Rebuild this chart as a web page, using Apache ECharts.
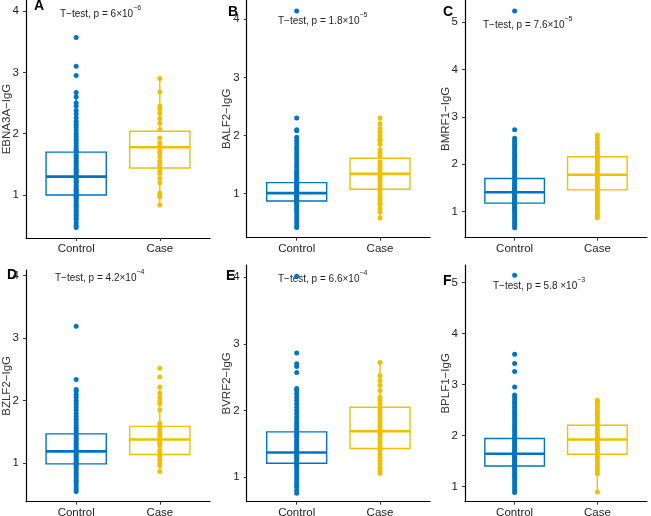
<!DOCTYPE html>
<html>
<head>
<meta charset="utf-8">
<script src="https://cdn.jsdelivr.net/npm/echarts@6/dist/echarts.min.js"></script>
<style>
  html, body { margin: 0; padding: 0; background: #fff; }
  #main { width: 651px; height: 516px; }
</style>
</head>
<body>
<div id="main"></div>
<script>
// groups on the x axis
const categories = ["Control", "Case"];
const letters = ["A", "B", "C", "D", "E", "F"];
const yNames = ["EBNA3A−IgG", "BALF2−IgG", "BMRF1−IgG", "BZLF2−IgG", "BVRF2−IgG", "BPLF1−IgG"];
const pMain = ["6×10", "1.8×10", "7.6×10", "4.2×10", "6.6×10", "5.8 ×10"];
const pExp = ["−6", "−5", "−5", "−4", "−4", "−3"];
const yTicksA = [1, 2, 3, 4];
const yTicksB = [1, 2, 3, 4];
const yTicksC = [1, 2, 3, 4, 5];
const yTicksD = [1, 2, 3, 4];
const yTicksE = [1, 2, 3, 4];
const yTicksF = [1, 2, 3, 4, 5];

// box stats: [lower whisker, Q1, median, Q3, upper whisker]
const boxCtrlA = [0.47, 1.0, 1.3, 1.7, 2.67];
const boxCaseA = [0.84, 1.44, 1.78, 2.04, 2.9];
const boxCtrlB = [0.42, 0.875, 1.01, 1.19, 1.65];
const boxCaseB = [0.57, 1.075, 1.34, 1.61, 2.3];
const boxCtrlC = [0.66, 1.18, 1.41, 1.7, 2.45];
const boxCaseC = [0.87, 1.46, 1.78, 2.16, 2.62];
const boxCtrlD = [0.55, 0.99, 1.19, 1.47, 2.18];
const boxCaseD = [0.87, 1.14, 1.38, 1.59, 2.22];
const boxCtrlE = [0.76, 1.21, 1.37, 1.68, 2.33];
const boxCaseE = [1.06, 1.43, 1.69, 2.05, 2.72];
const boxCtrlF = [0.88, 1.4, 1.64, 1.94, 2.75];
const boxCaseF = [0.89, 1.63, 1.92, 2.2, 2.69];

// individual samples
const ctrlA = [0.47, 0.5, 0.55, 0.6, 0.63, 0.67, 0.7, 0.73, 0.76, 0.8, 0.83, 0.86, 0.9, 0.93, 0.96, 0.98, 1.0, 1.02, 1.05, 1.08, 1.1, 1.13, 1.16, 1.2, 1.22, 1.25, 1.28, 1.3, 1.32, 1.35, 1.38, 1.4, 1.43, 1.46, 1.5, 1.53, 1.56, 1.6, 1.63, 1.66, 1.7, 1.73, 1.76, 1.8, 1.84, 1.88, 1.92, 1.96, 2.0, 2.05, 2.1, 2.15, 2.2, 2.26, 2.32, 2.38, 2.45, 2.5, 2.6, 2.67, 2.95, 3.1, 3.57];
const caseA = [0.84, 0.97, 1.0, 1.03, 1.2, 1.27, 1.35, 1.38, 1.43, 1.47, 1.5, 1.55, 1.62, 1.68, 1.72, 1.78, 1.8, 1.85, 1.93, 2.07, 2.17, 2.25, 2.33, 2.4, 2.45, 2.68, 2.9];
const ctrlB = [0.42, 0.45, 0.5, 0.55, 0.6, 0.65, 0.7, 0.73, 0.76, 0.8, 0.83, 0.85, 0.87, 0.89, 0.91, 0.93, 0.95, 0.97, 0.99, 1.0, 1.01, 1.02, 1.04, 1.06, 1.08, 1.1, 1.12, 1.14, 1.16, 1.18, 1.2, 1.23, 1.26, 1.3, 1.33, 1.37, 1.4, 1.45, 1.5, 1.55, 1.6, 1.65, 1.7, 1.75, 1.8, 1.86, 1.92, 1.97, 2.08, 2.1, 2.3, 4.14];
const caseB = [0.58, 0.68, 0.75, 0.82, 0.85, 0.9, 0.95, 1.0, 1.05, 1.1, 1.15, 1.2, 1.25, 1.3, 1.33, 1.37, 1.42, 1.45, 1.5, 1.55, 1.65, 1.7, 1.75, 1.85, 1.9, 1.92, 1.95, 2.0, 2.05, 2.12, 2.2, 2.3];
const ctrlC = [0.66, 0.7, 0.75, 0.8, 0.85, 0.9, 0.95, 1.0, 1.03, 1.06, 1.1, 1.13, 1.16, 1.19, 1.22, 1.25, 1.28, 1.31, 1.34, 1.37, 1.4, 1.42, 1.44, 1.47, 1.5, 1.53, 1.57, 1.6, 1.65, 1.7, 1.75, 1.8, 1.85, 1.9, 1.95, 2.0, 2.05, 2.1, 2.15, 2.2, 2.25, 2.3, 2.35, 2.4, 2.45, 2.5, 2.55, 2.73, 5.24];
const caseC = [0.87, 0.92, 0.97, 1.02, 1.07, 1.12, 1.17, 1.22, 1.27, 1.32, 1.37, 1.42, 1.47, 1.52, 1.57, 1.62, 1.67, 1.72, 1.76, 1.8, 1.85, 1.9, 1.95, 2.0, 2.05, 2.1, 2.15, 2.2, 2.25, 2.3, 2.35, 2.42, 2.48, 2.55, 2.62];
const ctrlD = [0.55, 0.58, 0.62, 0.66, 0.7, 0.73, 0.77, 0.8, 0.84, 0.88, 0.92, 0.95, 0.98, 1.0, 1.03, 1.06, 1.09, 1.12, 1.15, 1.18, 1.2, 1.23, 1.26, 1.3, 1.33, 1.37, 1.4, 1.44, 1.48, 1.52, 1.56, 1.6, 1.65, 1.7, 1.75, 1.8, 1.85, 1.9, 1.95, 2.0, 2.05, 2.1, 2.15, 2.18, 2.34, 3.19];
const caseD = [0.87, 0.96, 1.0, 1.05, 1.1, 1.14, 1.17, 1.21, 1.28, 1.32, 1.35, 1.37, 1.4, 1.44, 1.49, 1.55, 1.6, 1.64, 1.85, 1.95, 2.0, 2.05, 2.12, 2.22, 2.38, 2.52];
const ctrlE = [0.76, 0.8, 0.85, 0.88, 0.92, 0.96, 1.0, 1.04, 1.08, 1.12, 1.16, 1.19, 1.22, 1.25, 1.28, 1.3, 1.33, 1.35, 1.37, 1.4, 1.43, 1.46, 1.5, 1.53, 1.56, 1.6, 1.63, 1.66, 1.7, 1.73, 1.77, 1.81, 1.85, 1.9, 1.95, 2.0, 2.05, 2.1, 2.15, 2.2, 2.25, 2.3, 2.33, 2.57, 2.66, 2.7, 2.86, 4.01];
const caseE = [1.06, 1.1, 1.15, 1.2, 1.25, 1.3, 1.35, 1.4, 1.43, 1.47, 1.52, 1.57, 1.62, 1.66, 1.69, 1.72, 1.76, 1.8, 1.85, 1.9, 1.95, 2.0, 2.05, 2.1, 2.15, 2.2, 2.3, 2.38, 2.45, 2.52, 2.72];
const ctrlF = [0.88, 0.93, 0.98, 1.03, 1.08, 1.13, 1.18, 1.22, 1.26, 1.3, 1.34, 1.38, 1.41, 1.44, 1.47, 1.5, 1.53, 1.56, 1.59, 1.62, 1.64, 1.67, 1.7, 1.73, 1.76, 1.8, 1.84, 1.88, 1.92, 1.96, 2.0, 2.05, 2.1, 2.15, 2.2, 2.25, 2.3, 2.35, 2.4, 2.45, 2.5, 2.55, 2.6, 2.65, 2.7, 2.75, 2.79, 2.95, 3.25, 3.41, 3.59, 5.14];
const caseF = [0.89, 1.25, 1.3, 1.36, 1.42, 1.48, 1.54, 1.58, 1.63, 1.68, 1.73, 1.78, 1.83, 1.88, 1.92, 1.96, 2.0, 2.05, 2.1, 2.15, 2.2, 2.25, 2.3, 2.35, 2.4, 2.45, 2.5, 2.55, 2.6, 2.65, 2.69];

const colors = ["#0073C2", "#EFC000"];
const font = "'Liberation Sans', Arial, sans-serif";
const boxWidth = 0.72;

const panels = [
  { ctrl: ctrlA, cas: caseA, bCtrl: boxCtrlA, bCase: boxCaseA, ticks: yTicksA },
  { ctrl: ctrlB, cas: caseB, bCtrl: boxCtrlB, bCase: boxCaseB, ticks: yTicksB },
  { ctrl: ctrlC, cas: caseC, bCtrl: boxCtrlC, bCase: boxCaseC, ticks: yTicksC },
  { ctrl: ctrlD, cas: caseD, bCtrl: boxCtrlD, bCase: boxCaseD, ticks: yTicksD },
  { ctrl: ctrlE, cas: caseE, bCtrl: boxCtrlE, bCase: boxCaseE, ticks: yTicksE },
  { ctrl: ctrlF, cas: caseF, bCtrl: boxCtrlF, bCase: boxCaseF, ticks: yTicksF },
];

// layout: grid rect + y range, letter and annotation spots
const layout = [
  { left: 26, top: 0, width: 184, height: 238, ymin: 0.3, ymax: 4.18, lx: 34, ly: 7, px: 60, py: 12 },
  { left: 246.7, top: 0, width: 183.3, height: 237.7, ymin: 0.243, ymax: 4.33, lx: 228, ly: 13, px: 278, py: 19 },
  { left: 465, top: 0, width: 182, height: 237.7, ymin: 0.45, ymax: 5.47, lx: 443, ly: 13, px: 483, py: 23 },
  { left: 26, top: 270, width: 184, height: 231.7, ymin: 0.386, ymax: 4.09, lx: 7, ly: 276, px: 55, py: 276 },
  { left: 246.7, top: 265, width: 183.3, height: 236.7, ymin: 0.634, ymax: 4.18, lx: 226, ly: 277, px: 278, py: 277 },
  { left: 465, top: 265, width: 182, height: 236.7, ymin: 0.7, ymax: 5.34, lx: 443, ly: 282, px: 493, py: 284 },
];

function renderBox(params, api) {
  const x = api.value(0);
  const lo = api.coord([x, api.value(1)]);
  const q1 = api.coord([x, api.value(2)]);
  const md = api.coord([x, api.value(3)]);
  const q3 = api.coord([x, api.value(4)]);
  const hi = api.coord([x, api.value(5)]);
  const half = api.size([boxWidth, 0])[0] / 2;
  const c = colors[Math.round(x) - 1];
  const st = { stroke: c, lineWidth: 1.4, fill: null };
  return {
    type: "group",
    children: [
      { type: "line", shape: { x1: lo[0], y1: lo[1], x2: q1[0], y2: q1[1] }, style: st },
      { type: "line", shape: { x1: q3[0], y1: q3[1], x2: hi[0], y2: hi[1] }, style: st },
      { type: "rect", shape: { x: q1[0] - half, y: q3[1], width: half * 2, height: q1[1] - q3[1] }, style: st },
      { type: "line", shape: { x1: md[0] - half, y1: md[1], x2: md[0] + half, y2: md[1] }, style: { stroke: c, lineWidth: 2.6 } },
    ],
  };
}

const grid = [], xAxis = [], yAxis = [], series = [], graphic = [];
panels.forEach((p, i) => {
  const L = layout[i];
  grid.push({ left: L.left, top: L.top, width: L.width, height: L.height, outerBoundsMode: "none", containLabel: false });
  xAxis.push({
    gridIndex: i, type: "value", min: 0.4, max: 2.6,
    axisLine: { show: true, lineStyle: { color: "#000", width: 1.2 } },
    axisTick: { show: true, length: 3, customValues: [1, 2], lineStyle: { color: "#333" } },
    axisLabel: { customValues: [1, 2], formatter: (v) => categories[Math.round(v) - 1], color: "#222", fontSize: 11.5, fontFamily: font, margin: 5 },
    splitLine: { show: false },
  });
  yAxis.push({
    gridIndex: i, type: "value", min: L.ymin, max: L.ymax,
    name: yNames[i], nameLocation: "middle", nameGap: 13.5, nameMoveOverlap: false,
    nameTextStyle: { color: "#333", fontSize: 11.5, fontFamily: font },
    axisLine: { show: true, lineStyle: { color: "#000", width: 1.2 } },
    axisTick: { show: true, length: 3, customValues: p.ticks, lineStyle: { color: "#333" } },
    axisLabel: { customValues: p.ticks, color: "#222", fontSize: 11.5, fontFamily: font, margin: 7 },
    splitLine: { show: false },
  });
  series.push({
    type: "custom", xAxisIndex: i, yAxisIndex: i, z: 2,
    renderItem: renderBox,
    encode: { x: 0, y: [1, 2, 3, 4, 5] },
    data: [[1, ...p.bCtrl], [2, ...p.bCase]],
    silent: true,
  });
  series.push({
    type: "scatter", xAxisIndex: i, yAxisIndex: i, z: 3, symbolSize: 5,
    itemStyle: { color: colors[0], opacity: 1 },
    data: p.ctrl.map((v) => [1, v]),
  });
  series.push({
    type: "scatter", xAxisIndex: i, yAxisIndex: i, z: 3, symbolSize: 5,
    itemStyle: { color: colors[1], opacity: 1 },
    data: p.cas.map((v) => [2, v]),
  });
  graphic.push({
    type: "text", left: L.lx, top: L.ly - 8,
    style: { text: letters[i], font: "bold 14px " + font, fill: "#000" },
  });
  graphic.push({
    type: "text", left: L.px, top: L.py - 7,
    style: {
      text: "{t|T−test, p = " + pMain[i] + "}{s|" + pExp[i] + "}",
      rich: {
        t: { fontSize: 10, fontFamily: font, fill: "#222", lineHeight: 14, verticalAlign: "bottom" },
        s: { fontSize: 7, fontFamily: font, fill: "#222", lineHeight: 14, verticalAlign: "top" },
      },
    },
  });
});

const chart = echarts.init(document.getElementById("main"), null, { renderer: "canvas" });
chart.setOption({ animation: false, grid, xAxis, yAxis, series, graphic });
</script>
</body>
</html>
